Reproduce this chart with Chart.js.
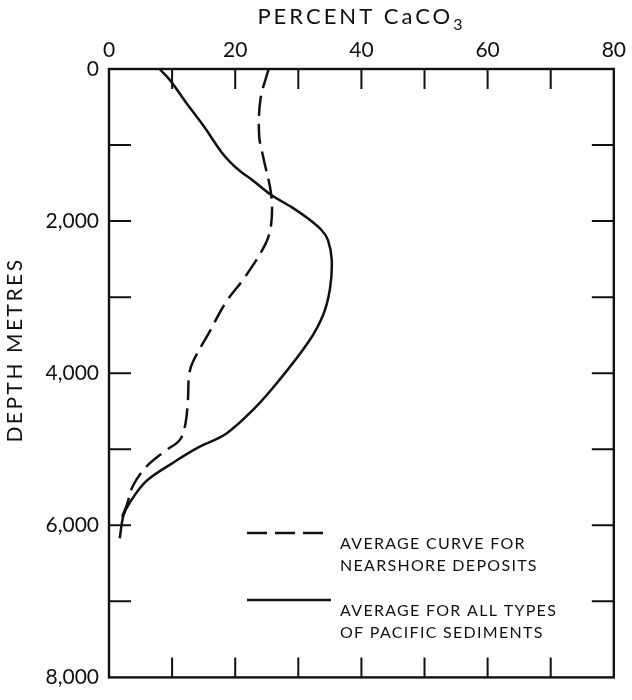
<!DOCTYPE html>
<html>
<head>
<meta charset="utf-8">
<script src="https://cdn.jsdelivr.net/npm/chart.js@4/dist/chart.umd.min.js"></script>
<style>
	body { margin: 0; background: #fff; }
	#wrap { width: 632px; height: 700px; }
</style>
</head>
<body>
<div id="wrap"><canvas id="chart" width="632" height="700"></canvas></div>
<script>
// values: depth in metres, percent CaCO3
const nearshoreDepth = [0, 400, 880, 1180, 1650, 2040, 2300, 2730, 3070, 3460, 3850, 4020, 4360, 4670, 4880, 5010, 5230, 5480, 5740, 5960];
const nearshorePct = [25.3, 24.0, 23.8, 24.5, 25.7, 25.7, 24.8, 21.6, 18.5, 15.9, 13.3, 12.7, 12.5, 12.1, 11.2, 9.1, 5.9, 3.8, 2.8, 1.7];

const pacificDepth = [0, 140, 440, 750, 1090, 1240, 1350, 1460, 1650, 1820, 1970, 2120, 2250, 2510, 2900, 3240, 3590, 4100, 4450, 4800, 4970, 5180, 5420, 5700, 5870, 6170];
const pacificPct = [8.0, 9.6, 12.2, 15.0, 17.8, 19.4, 20.9, 22.7, 25.6, 29.0, 31.6, 33.7, 34.7, 35.3, 35.0, 33.9, 31.6, 26.9, 23.2, 18.5, 14.3, 10.1, 5.9, 3.3, 2.3, 1.7];

const nearshoreLabel = ['AVERAGE CURVE FOR', 'NEARSHORE DEPOSITS'];
const pacificLabel = ['AVERAGE FOR ALL TYPES', 'OF PACIFIC SEDIMENTS'];

const xTitle = 'PERCENT CaCO';
const xTitleSub = '3';
const yTitle = 'DEPTH METRES';

const pctMin = 0, pctMax = 80, pctStep = 10, pctLabelEvery = 20;
const depthMin = 0, depthMax = 8000, depthStep = 1000, depthLabelEvery = 2000;

const INK = '#111';
const FONT = 'Lato, "Open Sans", sans-serif';

function toPoints(xs, ys) {
	return xs.map((x, i) => ({ x: x, y: ys[i] }));
}

// frame, inward ticks, axis titles and the two-line legend
const paperPlugin = {
	id: 'paper',
	afterDraw(chart) {
		const ctx = chart.ctx;
		const a = chart.chartArea;
		const xs = chart.scales.x, ys = chart.scales.y;
		ctx.save();
		ctx.strokeStyle = INK;
		ctx.lineWidth = 2.4;
		ctx.strokeRect(a.left, a.top, a.right - a.left, a.bottom - a.top);

		ctx.lineWidth = 2;
		ctx.beginPath();
		xs.ticks.forEach(t => {
			if (t.value <= pctMin || t.value >= pctMax) return;
			const px = xs.getPixelForValue(t.value);
			ctx.moveTo(px, a.top); ctx.lineTo(px, a.top + 20);
			ctx.moveTo(px, a.bottom); ctx.lineTo(px, a.bottom - 20);
		});
		ys.ticks.forEach(t => {
			if (t.value <= depthMin || t.value >= depthMax) return;
			const py = ys.getPixelForValue(t.value);
			ctx.moveTo(a.left, py); ctx.lineTo(a.left + 22, py);
			ctx.moveTo(a.right, py); ctx.lineTo(a.right - 22, py);
		});
		ctx.stroke();

		// top title with subscript
		ctx.fillStyle = INK;
		ctx.textBaseline = 'middle';
		ctx.textAlign = 'left';
		ctx.font = '22px ' + FONT;
		ctx.letterSpacing = '3px';
		const w1 = ctx.measureText(xTitle).width;
		ctx.font = '16px ' + FONT;
		const w2 = ctx.measureText(xTitleSub).width;
		const tx = (a.left + a.right) / 2 - (w1 + w2) / 2;
		ctx.font = '22px ' + FONT;
		ctx.fillText(xTitle, tx, 17);
		ctx.font = '16px ' + FONT;
		ctx.fillText(xTitleSub, tx + w1, 25);

		// left title, rotated
		ctx.save();
		ctx.translate(15, 350);
		ctx.rotate(-Math.PI / 2);
		ctx.textAlign = 'center';
		ctx.font = '21px ' + FONT;
		ctx.letterSpacing = '2.5px';
		ctx.fillText(yTitle, 0, 0);
		ctx.restore();

		// legend
		const entries = [
			{ ds: chart.data.datasets[0], lines: nearshoreLabel, y: 533 },
			{ ds: chart.data.datasets[1], lines: pacificLabel, y: 600 }
		];
		ctx.font = '16px ' + FONT;
		ctx.letterSpacing = '1.3px';
		entries.forEach(e => {
			ctx.save();
			ctx.strokeStyle = e.ds.borderColor;
			ctx.lineWidth = e.ds.borderWidth;
			ctx.setLineDash(e.ds.borderDash || []);
			ctx.beginPath();
			ctx.moveTo(247, e.y);
			ctx.lineTo(331, e.y);
			ctx.stroke();
			ctx.restore();
			e.lines.forEach((s, i) => ctx.fillText(s, 340, e.y + 11 + i * 22));
		});
		ctx.restore();
	}
};

new Chart(document.getElementById('chart'), {
	type: 'scatter',
	data: {
		datasets: [
			{
				label: nearshoreLabel.join(' '),
				data: toPoints(nearshorePct, nearshoreDepth),
				showLine: true,
				borderColor: INK,
				borderWidth: 2.5,
				borderDash: [20, 8],
				pointRadius: 0,
				tension: 0.35
			},
			{
				label: pacificLabel.join(' '),
				data: toPoints(pacificPct, pacificDepth),
				showLine: true,
				borderColor: INK,
				borderWidth: 2.5,
				pointRadius: 0,
				tension: 0.35
			}
		]
	},
	options: {
		responsive: false,
		animation: false,
		layout: { padding: { left: 0, top: 0, right: 14, bottom: 12 } },
		plugins: { legend: { display: false }, tooltip: { enabled: false } },
		scales: {
			x: {
				type: 'linear',
				position: 'top',
				min: pctMin,
				max: pctMax,
				grid: { display: false, drawTicks: false },
				border: { display: false },
				ticks: {
					stepSize: pctStep,
					padding: 6,
					autoSkip: false,
					maxRotation: 0,
					color: INK,
					font: { family: FONT, size: 21 },
					callback: v => (v % pctLabelEvery === 0 ? String(v) : '')
				},
				afterFit(scale) { scale.height = 69; }
			},
			y: {
				type: 'linear',
				reverse: true,
				min: depthMin,
				max: depthMax,
				grid: { display: false, drawTicks: false },
				border: { display: false },
				ticks: {
					stepSize: depthStep,
					padding: 10,
					autoSkip: false,
					color: INK,
					font: { family: FONT, size: 21 },
					callback: v => (v % depthLabelEvery === 0 ? v.toLocaleString('en-US') : '')
				},
				afterFit(scale) { scale.width = 109; }
			}
		}
	},
	plugins: [paperPlugin]
});
</script>
</body>
</html>
